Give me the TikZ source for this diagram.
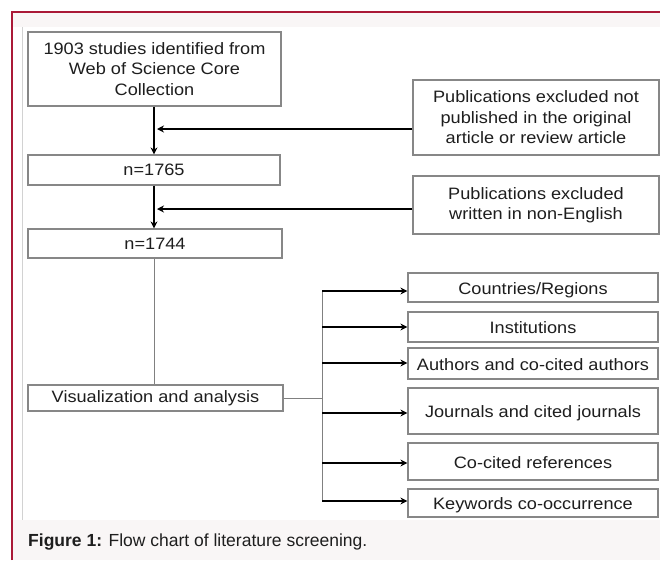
\documentclass[tikz,border=0pt]{standalone}
\usepackage{fontspec}
\setmainfont{Liberation Sans}
\newfontfamily\boxfont{Liberation Sans}[FakeStretch=1.1]
\usetikzlibrary{arrows.meta}
\definecolor{framered}{RGB}{170,25,55}
\definecolor{bandgray}{RGB}{249,246,246}
\definecolor{boxline}{RGB}{135,135,135}
\definecolor{boxtext}{RGB}{30,30,30}
\tikzset{
  box/.style={draw=boxline,line width=1.2pt,align=center,inner sep=0pt,
    text=boxtext,font=\boxfont\fontsize{16.5}{20.5}\selectfont},
  arr/.style={-{Stealth[length=7pt,width=7pt]},line width=1.7pt},
  link/.style={draw=gray,line width=0.9pt}
}
\begin{document}
\begin{tikzpicture}[x=1pt,y=-1pt]
\useasboundingbox (0,0) rectangle (660,560);
%% frame and bands
\fill[white] (0,0) rectangle (660,560);
\fill[bandgray] (12,12) rectangle (660,27);
\fill[bandgray] (12,520) rectangle (660,560);
\draw[gray!35,line width=0.7pt] (22,27) -- (22,520);
\draw[framered,line width=1.2pt] (12,560) -- (12,12) -- (660,12);
%% main column
\node[box,minimum width=253,minimum height=74] (src) at (154.5,69)
  {1903 studies identified from\\Web of Science Core\\Collection};
\node[box,minimum width=252,minimum height=30] (n1) at (154,170) {n=1765};
\node[box,minimum width=254,minimum height=29] (n2) at (155,243.5) {n=1744};
\node[box,minimum width=255,minimum height=26] (vis) at (155.5,398)
  {Visualization and analysis};
%% exclusions
\node[box,minimum width=246,minimum height=75] (ex1) at (536,117.5)
  {Publications excluded not\\published in the original\\article or review article};
\node[box,minimum width=246,minimum height=58] (ex2) at (536,205)
  {Publications excluded\\written in non-English};
\draw[arr] (src.south -| 154,0) -- (n1.north -| 154,0);
\draw[arr] (n1.south -| 154,0) -- (n2.north -| 154,0);
\coordinate (m1) at (157,129);
\coordinate (m2) at (157,209);
\draw[arr] (ex1.west |- m1) -- (m1);
\draw[arr] (ex2.west |- m2) -- (m2);
\draw[link] (n2.south -| 154,0) -- (vis.north -| 154,0);
%% outputs
\coordinate (fork) at (322,398);
\draw[link] (vis.east) -- (fork);
\draw[link] (322,290) -- (322,501);
\foreach \nm/\yc/\hh/\ya/\txt in {
    cr/287.5/29/291/{Countries/Regions},
    inst/327/30/327/Institutions,
    auth/363.5/31/363/Authors and co-cited authors,
    jour/411/46/413/Journals and cited journals,
    cocit/461.5/37/463/Co-cited references,
    kw/503/28/501/Keywords co-occurrence}{
  \node[box,minimum width=250,minimum height=\hh,text height=14.5pt,text depth=1pt]
    (\nm) at (533,\yc) {\txt};
  \coordinate (b\nm) at (322,\ya);
  \draw[arr] (b\nm) -- (\nm.west |- b\nm);
}
%% caption
\node[anchor=west,inner sep=0pt,text=boxtext,font=\fontsize{17.5}{20}\selectfont]
  (cap) at (28,542) {\textbf{Figure 1:} Flow chart of literature screening.};
\end{tikzpicture}
\end{document}
